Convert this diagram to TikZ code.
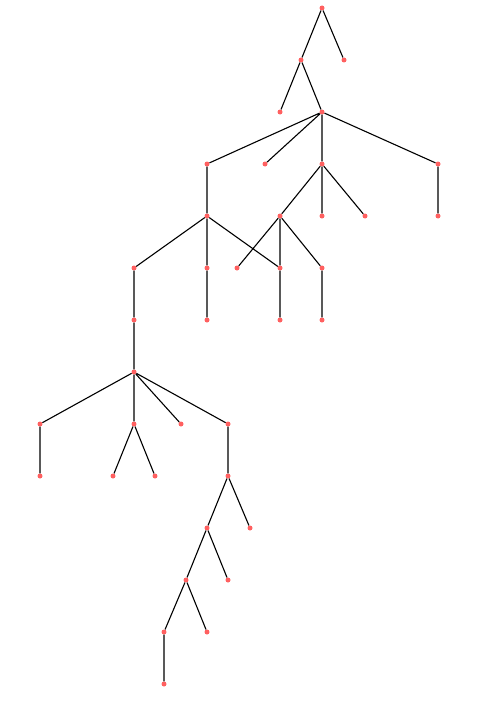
\documentclass[tikz,border=0pt]{standalone}
\definecolor{dotred}{RGB}{255,96,96}
\tikzset{
  pt/.style={circle,fill=dotred,inner sep=0pt,minimum size=5pt},
  edge/.style={draw=black,line width=1.1pt}
}
\begin{document}
\begin{tikzpicture}[x=1pt,y=-1pt]
\useasboundingbox (0,0) rectangle (495,709);
% nodes
\node[pt] (r) at (322,8) {};
\node[pt] (a) at (301,60) {};
\node[pt] (b) at (344,60) {};
\node[pt] (a1) at (280,112) {};
\node[pt] (a2) at (322,112) {};
\node[pt] (c1) at (207,164) {};
\node[pt] (c2) at (265,164) {};
\node[pt] (c3) at (322,164) {};
\node[pt] (c4) at (438,164) {};
\node[pt] (d1) at (207,216) {};
\node[pt] (d2) at (280,216) {};
\node[pt] (d3) at (322,216) {};
\node[pt] (d4) at (365,216) {};
\node[pt] (d5) at (438,216) {};
\node[pt] (e1) at (134,268) {};
\node[pt] (e2) at (207,268) {};
\node[pt] (e3) at (237,268) {};
\node[pt] (e4) at (280,268) {};
\node[pt] (e5) at (322,268) {};
\node[pt] (f1) at (134,320) {};
\node[pt] (f2) at (207,320) {};
\node[pt] (f3) at (280,320) {};
\node[pt] (f4) at (322,320) {};
\node[pt] (g) at (134,372) {};
\node[pt] (h1) at (40,424) {};
\node[pt] (h2) at (134,424) {};
\node[pt] (h3) at (181,424) {};
\node[pt] (h4) at (228,424) {};
\node[pt] (i1) at (40,476) {};
\node[pt] (i2) at (113,476) {};
\node[pt] (i3) at (155,476) {};
\node[pt] (i4) at (228,476) {};
\node[pt] (j1) at (207,528) {};
\node[pt] (j2) at (250,528) {};
\node[pt] (k1) at (186,580) {};
\node[pt] (k2) at (228,580) {};
\node[pt] (l1) at (164,632) {};
\node[pt] (l2) at (207,632) {};
\node[pt] (m) at (164,684) {};
% edges
\path[edge] (r)--(a) (r)--(b) (a)--(a1) (a)--(a2)
  (a2)--(c1) (a2)--(c2) (a2)--(c3) (a2)--(c4)
  (c1)--(d1) (c3)--(d2) (c3)--(d3) (c3)--(d4) (c4)--(d5)
  (d1)--(e1) (d1)--(e2) (d1)--(e4)
  (d2)--(e3) (d2)--(e4) (d2)--(e5)
  (e1)--(f1) (e2)--(f2) (e4)--(f3) (e5)--(f4)
  (f1)--(g)
  (g)--(h1) (g)--(h2) (g)--(h3) (g)--(h4)
  (h1)--(i1) (h2)--(i2) (h2)--(i3) (h4)--(i4)
  (i4)--(j1) (i4)--(j2)
  (j1)--(k1) (j1)--(k2)
  (k1)--(l1) (k1)--(l2)
  (l1)--(m);
\end{tikzpicture}
\end{document}
